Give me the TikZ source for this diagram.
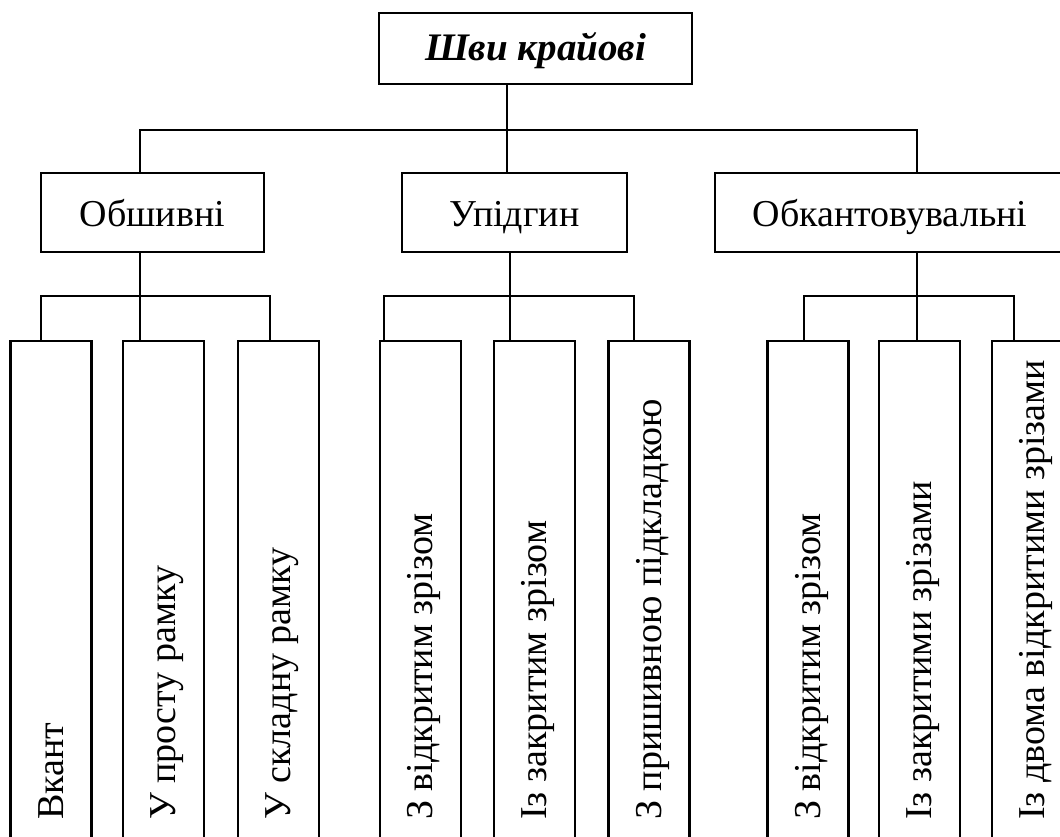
\documentclass[tikz,border=0pt]{standalone}
\usepackage{fontspec}
\setmainfont{Liberation Serif}
\begin{document}
\begin{tikzpicture}[x=1pt,y=-1pt,
  box/.style={draw,line width=2.2pt,rectangle,inner sep=0pt,outer sep=0pt},
  mid/.style={box,minimum height=79pt,font=\fontsize{38}{40}\selectfont,
              text height=36pt,text depth=8pt},
  leaf/.style={box,minimum width=81pt,minimum height=560pt},
  vlabel/.style={font=\fontsize{38}{40}\selectfont,inner sep=0pt,rotate=90,anchor=base west},
  wire/.style={line width=2.2pt}]
\useasboundingbox (0,0) rectangle (1060,836);
\clip (0,0) rectangle (1060,836);

% root
\node[box,minimum width=313pt,minimum height=71pt,text height=33pt,text depth=10pt,
      font=\fontsize{39}{41}\selectfont\bfseries\itshape] (root) at (535.5,48.5) {Шви крайові};

% second level
\node[mid,minimum width=223pt] (obsh) at (152.5,212.5) {Обшивні};
\node[mid,minimum width=225pt] (upid) at (514.5,212.5) {Упідгин};
\node[mid,minimum width=350pt] (obk)  at (890,212.5) {Обкантовувальні};

% leaves (running past the lower edge)
\node[leaf] (b1) at (51,621) {};
\node[leaf] (b2) at (163.5,621) {};
\node[leaf] (b3) at (278.5,621) {};
\node[leaf] (b4) at (420.5,621) {};
\node[leaf] (b5) at (534.5,621) {};
\node[leaf] (b6) at (649,621) {};
\node[leaf] (b7) at (808,621) {};
\node[leaf] (b8) at (919.5,621) {};
\node[leaf] (b9) at (1032.5,621) {};

\node[vlabel] (t1) at (63,820) {Вкант};
\node[vlabel] (t2) at (175.5,820) {У просту рамку};
\node[vlabel] (t3) at (290.5,820) {У складну рамку};
\node[vlabel] (t4) at (432.5,820) {З відкритим зрізом};
\node[vlabel] (t5) at (546.5,820) {Із закритим зрізом};
\node[vlabel] (t6) at (661,820) {З пришивною підкладкою};
\node[vlabel] (t7) at (820,820) {З відкритим зрізом};
\node[vlabel] (t8) at (931.5,820) {Із закритими зрізами};
\node[vlabel] (t9) at (1044,820) {Із двома відкритими зрізами};

% junction points
\coordinate (r0) at (507,130);
\coordinate (rL) at (140,130);
\coordinate (rR) at (917,130);
\coordinate (o1) at (41,296);
\coordinate (o2) at (140,296);
\coordinate (o3) at (270,296);
\coordinate (u1) at (384,296);
\coordinate (u2) at (510,296);
\coordinate (u3) at (634,296);
\coordinate (k1) at (804,296);
\coordinate (k2) at (917,296);
\coordinate (k3) at (1014,296);

% root to second level
\draw[wire] (root.south -| r0) -- (upid.north -| r0);
\draw[wire] (obsh.north -| rL) -- (rL) -- (rR) -- (obk.north -| rR);

% second level to leaves
\draw[wire] (obsh.south -| o2) -- (b2.north -| o2);
\draw[wire] (b1.north -| o1) -- (o1) -- (o3) -- (b3.north -| o3);
\draw[wire] (upid.south -| u2) -- (b5.north -| u2);
\draw[wire] (b4.north -| u1) -- (u1) -- (u3) -- (b6.north -| u3);
\draw[wire] (obk.south -| k2) -- (b8.north -| k2);
\draw[wire] (b7.north -| k1) -- (k1) -- (k3) -- (b9.north -| k3);
\end{tikzpicture}
\end{document}
